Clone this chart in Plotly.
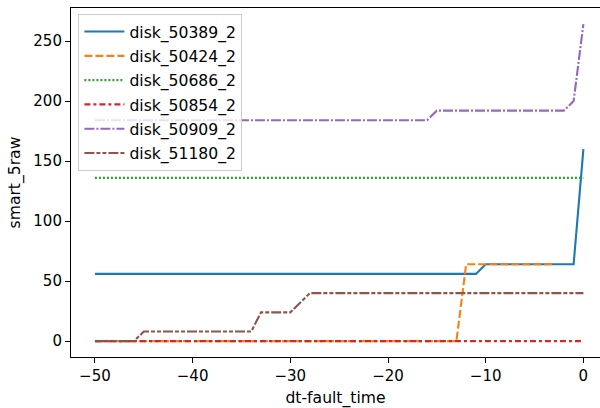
import plotly.graph_objects as go

x_all = [-50, -49, -48, -47, -46, -45, -44, -43, -42, -41,
         -40, -39, -38, -37, -36, -35, -34, -33, -32, -31,
         -30, -29, -28, -27, -26, -25, -24, -23, -22, -21,
         -20, -19, -18, -17, -16, -15, -14, -13, -12, -11,
         -10, -9, -8, -7, -6, -5, -4, -3, -2, -1, 0]

disk_50389_2 = [56, 56, 56, 56, 56, 56, 56, 56, 56, 56,
                56, 56, 56, 56, 56, 56, 56, 56, 56, 56,
                56, 56, 56, 56, 56, 56, 56, 56, 56, 56,
                56, 56, 56, 56, 56, 56, 56, 56, 56, 56,
                64, 64, 64, 64, 64, 64, 64, 64, 64, 64, 160]

x_50424 = [-50, -49, -48, -47, -46, -45, -44, -43, -42, -41,
           -40, -39, -38, -37, -36, -35, -34, -33, -32, -31,
           -30, -29, -28, -27, -26, -25, -24, -23, -22, -21,
           -20, -19, -18, -17, -16, -15, -14, -13, -12, -11,
           -10, -9, -8, -7, -6, -5, -4, -3]
disk_50424_2 = [0, 0, 0, 0, 0, 0, 0, 0, 0, 0,
                0, 0, 0, 0, 0, 0, 0, 0, 0, 0,
                0, 0, 0, 0, 0, 0, 0, 0, 0, 0,
                0, 0, 0, 0, 0, 0, 0, 0, 64, 64,
                64, 64, 64, 64, 64, 64, 64, 64]

disk_50686_2 = [136, 136, 136, 136, 136, 136, 136, 136, 136, 136,
                136, 136, 136, 136, 136, 136, 136, 136, 136, 136,
                136, 136, 136, 136, 136, 136, 136, 136, 136, 136,
                136, 136, 136, 136, 136, 136, 136, 136, 136, 136,
                136, 136, 136, 136, 136, 136, 136, 136, 136, 136, 136]

disk_50854_2 = [0, 0, 0, 0, 0, 0, 0, 0, 0, 0,
                0, 0, 0, 0, 0, 0, 0, 0, 0, 0,
                0, 0, 0, 0, 0, 0, 0, 0, 0, 0,
                0, 0, 0, 0, 0, 0, 0, 0, 0, 0,
                0, 0, 0, 0, 0, 0, 0, 0, 0, 0, 0]

disk_50909_2 = [184, 184, 184, 184, 184, 184, 184, 184, 184, 184,
                184, 184, 184, 184, 184, 184, 184, 184, 184, 184,
                184, 184, 184, 184, 184, 184, 184, 184, 184, 184,
                184, 184, 184, 184, 184, 192, 192, 192, 192, 192,
                192, 192, 192, 192, 192, 192, 192, 192, 192, 200, 264]

disk_51180_2 = [0, 0, 0, 0, 0, 8, 8, 8, 8, 8,
                8, 8, 8, 8, 8, 8, 8, 24, 24, 24,
                24, 32, 40, 40, 40, 40, 40, 40, 40, 40,
                40, 40, 40, 40, 40, 40, 40, 40, 40, 40,
                40, 40, 40, 40, 40, 40, 40, 40, 40, 40, 40]

y_ticks = [0, 50, 100, 150, 200, 250]
x_ticks = [-50, -40, -30, -20, -10, 0]

series = [
    ("disk_50389_2", x_all, disk_50389_2, "#1f77b4", "solid"),
    ("disk_50424_2", x_50424, disk_50424_2, "#ff7f0e", "8px,3px"),
    ("disk_50686_2", x_all, disk_50686_2, "#2ca02c", "2px,2px"),
    ("disk_50854_2", x_all, disk_50854_2, "#d62728", "6px,3px,3px,3px"),
    ("disk_50909_2", x_all, disk_50909_2, "#9467bd", "10px,2px,2px,2px"),
    ("disk_51180_2", x_all, disk_51180_2, "#8c564b", "10px,2px,4px,2px,4px,2px"),
]

FONT = "DejaVu Sans"
TICK = 15
TXT = 15.6
fig = go.Figure()
for name, xs, ys, color, dash in series:
    fig.add_trace(go.Scatter(x=xs, y=ys, name=name, mode="lines", legendgroup=name,
                             line=dict(color=color, width=2.1, dash=dash)))

fig.update_layout(
    width=600, height=408,
    margin=dict(l=71, r=0, t=8, b=51),
    paper_bgcolor="white", plot_bgcolor="white",
    font=dict(family=FONT, size=TXT, color="black"),
    showlegend=True,
    legend=dict(x=0.014, y=0.983, xanchor="left", yanchor="top",
                bgcolor="rgba(255,255,255,0.8)", bordercolor="#cccccc", borderwidth=1,
                font=dict(family=FONT, size=TXT, color="black"),
                tracegroupgap=1, itemwidth=40),
    xaxis=dict(range=[-52.45, 1.7], tickvals=x_ticks, showgrid=False, zeroline=False,
               showline=True, linecolor="black", linewidth=1.1, mirror=True,
               ticks="outside", ticklen=5, tickwidth=1.1, tickcolor="black",
               tickfont=dict(family=FONT, size=TICK),
               title=dict(text="dt-fault_time", font=dict(family=FONT, size=TXT), standoff=8)),
    yaxis=dict(range=[-13.2, 277.5], tickvals=y_ticks, showgrid=False, zeroline=False,
               showline=True, linecolor="black", linewidth=1.1,
               ticks="outside", ticklen=5, tickwidth=1.1, tickcolor="black",
               tickfont=dict(family=FONT, size=TICK),
               title=dict(text="smart_5raw", font=dict(family=FONT, size=TXT), standoff=8)),
)

fig.write_html("out.html")
